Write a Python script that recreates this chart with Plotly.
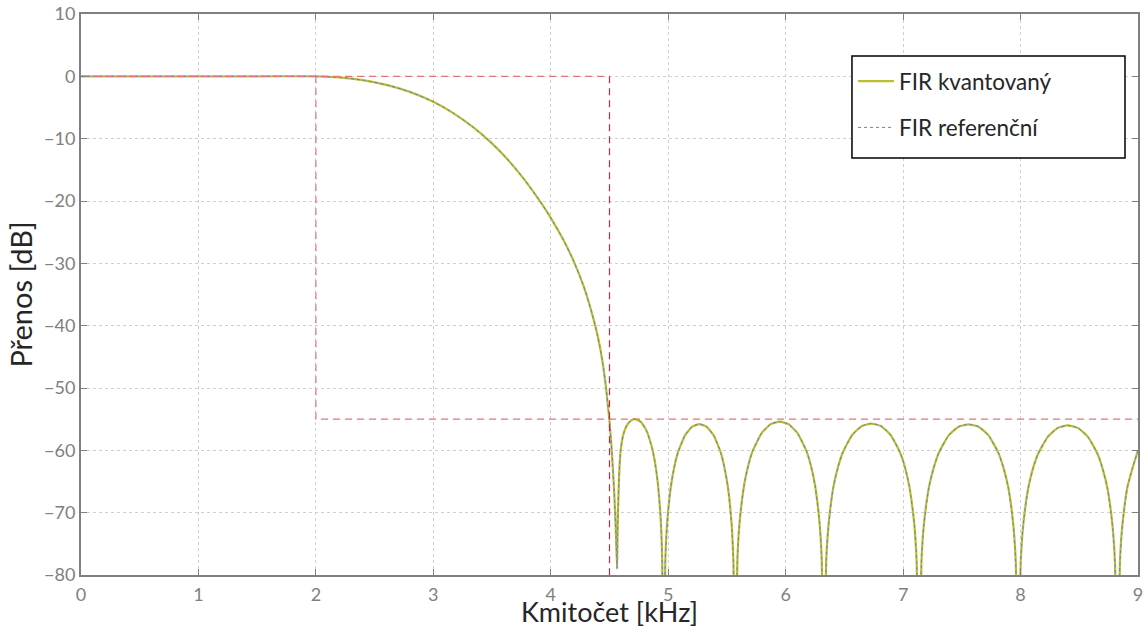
import plotly.graph_objects as go

# ---- data (kHz, dB) ----
freq_khz = [0.0, 0.5, 1.0, 1.5, 2.0, 2.2, 2.4, 2.6, 2.8, 3.0, 3.17, 3.341, 3.483, 3.625, 3.767,
            3.909, 4.0, 4.108, 4.193, 4.278, 4.349, 4.40, 4.44, 4.47, 4.50, 4.52, 4.54, 4.555,
            4.565,
            # lobe 1
            4.568, 4.572, 4.582, 4.595, 4.62, 4.65, 4.685, 4.716, 4.765, 4.814, 4.862, 4.887,
            4.911, 4.936, 4.948, 4.96,
            # lobe 2
            4.975, 4.99, 5.021, 5.051, 5.082, 5.143, 5.204, 5.265, 5.326, 5.387, 5.448, 5.478,
            5.509, 5.54, 5.555, 5.57,
            # lobe 3
            5.589, 5.608, 5.646, 5.683, 5.721, 5.797, 5.872, 5.948, 6.024, 6.099, 6.175, 6.213,
            6.25, 6.288, 6.307, 6.325,
            # lobe 4
            6.345, 6.366, 6.406, 6.447, 6.487, 6.568, 6.649, 6.73, 6.811, 6.892, 6.973, 7.014,
            7.054, 7.095, 7.115, 7.135,
            # lobe 5
            7.156, 7.177, 7.219, 7.262, 7.304, 7.388, 7.473, 7.557, 7.642, 7.727, 7.811, 7.853,
            7.896, 7.938, 7.959, 7.98,
            # lobe 6
            8.001, 8.022, 8.064, 8.106, 8.149, 8.233, 8.318, 8.402, 8.487, 8.572, 8.656, 8.698,
            8.741, 8.783, 8.804, 8.825,
            # lobe 7 (rising edge)
            8.846, 8.867, 8.909, 8.951, 9.0]

fir_kvantovany_db = [0.0, 0.0, 0.0, 0.0, 0.0, -0.17, -0.62, -1.38, -2.49, -4.08, -5.9, -8.2,
                     -10.47, -13.17, -16.37, -20.06, -22.7, -26.26, -29.57, -33.57, -37.9, -41.7,
                     -45.7, -49.9, -55.3, -60.3, -66.7, -73.5, -79.0,
                     -74.0, -70.0, -64.0, -60.0, -57.3, -55.9, -55.2, -55.0, -55.4, -56.8, -59.6,
                     -61.9, -65.2, -71.1, -77.1, -100.0,
                     -77.9, -71.9, -66.0, -62.7, -60.4, -57.6, -56.2, -55.8, -56.2, -57.6, -60.4,
                     -62.7, -66.0, -71.9, -77.9, -100.0,
                     -77.5, -71.5, -65.6, -62.3, -60.0, -57.2, -55.8, -55.4, -55.8, -57.2, -60.0,
                     -62.3, -65.6, -71.5, -77.5, -100.0,
                     -77.8, -71.8, -65.9, -62.6, -60.3, -57.5, -56.1, -55.7, -56.1, -57.5, -60.3,
                     -62.6, -65.9, -71.8, -77.8, -100.0,
                     -77.9, -71.9, -66.0, -62.7, -60.4, -57.6, -56.2, -55.85, -56.2, -57.6, -60.4,
                     -62.7, -66.0, -71.9, -77.9, -100.0,
                     -78.1, -72.1, -66.2, -62.9, -60.6, -57.8, -56.4, -56.0, -56.4, -57.8, -60.6,
                     -62.9, -66.2, -72.1, -78.1, -100.0,
                     -78.0, -72.0, -66.0, -63.0, -60.0]

# the reference (unquantised) response coincides with the quantised one at this resolution
fir_referencni_db = list(fir_kvantovany_db)

# tolerance masks
pass_mask_x = [0.0, 4.5]
pass_mask_y = [0.0, 0.0]
edge_mask_x = [4.5, 4.5]
edge_mask_y = [0.0, -80.0]
stop_mask_x = [2.0, 2.0, 9.0]
stop_mask_y = [0.0, -55.0, -55.0]

x_ticks = [0, 1, 2, 3, 4, 5, 6, 7, 8, 9]
y_ticks = [10, 0, -10, -20, -30, -40, -50, -60, -70, -80]

FONT = "Lato"
GREY = "#808080"
TEXT = "#262626"
LIGHT_RED = "#e8737b"
DARK_RED = "#c8283a"

fig = go.Figure()

fig.add_trace(go.Scatter(x=freq_khz, y=fir_kvantovany_db, mode="lines",
                         name="FIR kvantovaný", legendgroup="a",
                         line=dict(color="#bcbe2c", width=2.2, shape="spline", smoothing=0.5)))
fig.add_trace(go.Scatter(x=freq_khz, y=fir_referencni_db, mode="lines",
                         name="FIR referenční", legendgroup="b",
                         line=dict(color="#6a7cc8", width=1, dash="dot", shape="spline", smoothing=0.5)))

fig.add_trace(go.Scatter(x=pass_mask_x, y=pass_mask_y, mode="lines", showlegend=False,
                         line=dict(color=LIGHT_RED, width=1.2, dash="7px,5px")))
fig.add_trace(go.Scatter(x=stop_mask_x, y=stop_mask_y, mode="lines", showlegend=False,
                         line=dict(color=LIGHT_RED, width=1.2, dash="7px,5px")))
fig.add_trace(go.Scatter(x=edge_mask_x, y=edge_mask_y, mode="lines", showlegend=False,
                         line=dict(color=DARK_RED, width=1.2, dash="7px,5px")))

axis_common = dict(
    showline=True, linecolor=GREY, linewidth=2, mirror="ticks",
    ticks="inside", ticklen=6, tickwidth=1, tickcolor=GREY,
    showgrid=True, gridcolor="#cfcfcf", griddash="dot", gridwidth=1,
    zeroline=False, automargin=False,
    tickfont=dict(family=FONT, size=18, color=GREY),
)

fig.update_xaxes(range=[0, 9], tickvals=x_ticks, ticklabelstandoff=2,
                 title=dict(text="Kmitočet [kHz]", font=dict(family=FONT, size=27, color=TEXT),
                            standoff=2),
                 **axis_common)
fig.update_yaxes(range=[-80, 10], tickvals=y_ticks,
                 title=dict(text="Přenos [dB]", font=dict(family=FONT, size=29, color=TEXT),
                            standoff=3),
                 **axis_common)

# legend frame (MATLAB-style box with generous padding)
fig.add_shape(type="rect", xref="paper", yref="paper",
              x0=0.7294, x1=0.9877, y0=0.7433, y1=0.9251,
              line=dict(color="black", width=1.5), fillcolor="white", layer="above")

fig.update_layout(
    width=1146, height=628,
    margin=dict(l=81, r=8, t=14, b=53),
    plot_bgcolor="white", paper_bgcolor="white",
    font=dict(family=FONT),
    legend=dict(x=0.7304, y=0.918, xanchor="left", yanchor="top",
                bgcolor="rgba(0,0,0,0)", borderwidth=0,
                font=dict(family=FONT, size=22.5, color=TEXT),
                tracegroupgap=14, itemwidth=36),
    showlegend=True,
)

fig.write_html("out.html", config={"displayModeBar": False},
               post_script="document.body.style.margin='0';document.body.style.padding='0';")
